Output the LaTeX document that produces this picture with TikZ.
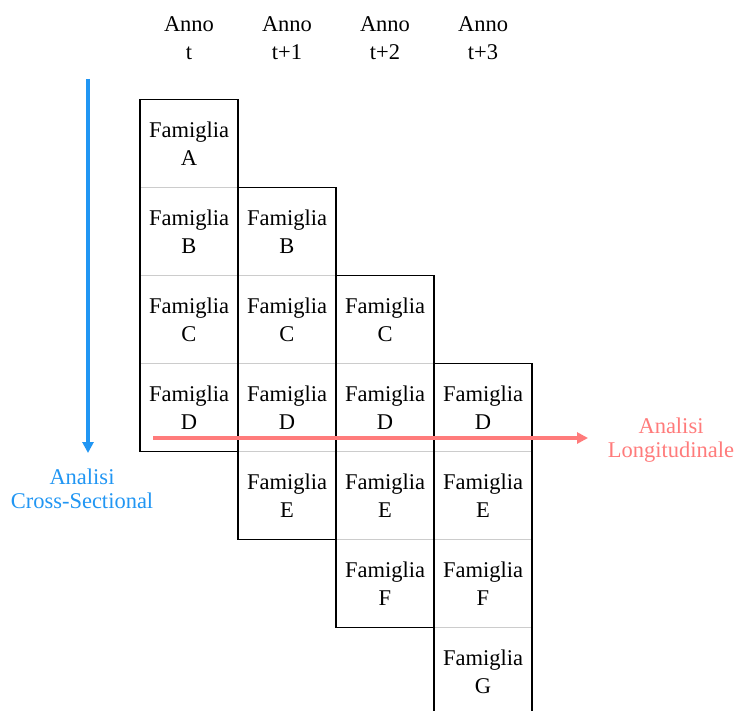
\documentclass[tikz,border=0pt]{standalone}
\usepackage{fontspec}
\setmainfont{Liberation Serif}
\usetikzlibrary{arrows.meta}
\definecolor{crossblue}{HTML}{2196F3}
\definecolor{longred}{HTML}{FF7B7B}
\definecolor{sepgray}{HTML}{CCCCCC}
\tikzset{
  cell/.style={minimum width=98pt, minimum height=88pt, inner sep=0pt, align=center,
    font=\fontsize{22.5}{28}\selectfont},
  header/.style={align=center, font=\fontsize{22.5}{28}\selectfont},
  colframe/.style={draw=black, line width=1.5pt},
  sep/.style={draw=sepgray, line width=1.2pt},
  axis/.style={line width=3.5pt, -{Triangle[length=11pt,width=11pt]}},
  axislabel/.style={align=center, font=\fontsize{22.5}{23.5}\selectfont}
}
\begin{document}
\begin{tikzpicture}[x=1pt, y=-1pt]
\useasboundingbox (0,0) rectangle (739,711);
% column headers
\foreach \i/\lbl in {0/t, 1/t+1, 2/t+2, 3/t+3}
  \node[header] (h\i) at ({189+98*\i}, 38.5) {Anno\\ \lbl};

% cells: one family per row, each column covers four consecutive rows
\foreach \c/\rows in {0/{0/A,1/B,2/C,3/D}, 1/{1/B,2/C,3/D,4/E},
                      2/{2/C,3/D,4/E,5/F}, 3/{3/D,4/E,5/F,6/G}}{
  \foreach \r/\lt in \rows
    \node[cell] (c\c\r) at ({189+98*\c}, {143.5+88*\r}) {Famiglia\\ \lt};
  \pgfmathtruncatemacro{\first}{\c}
  \pgfmathtruncatemacro{\last}{\c+3}
  % light separators between the cells of one column
  \foreach \r in {\first,...,\numexpr\last-1\relax}
    \draw[sep] (c\c\r.south west) -- (c\c\r.south east);
  \draw[colframe] (c\c\first.north west) rectangle (c\c\last.south east);
}

% cross-sectional axis
\coordinate (cs1) at (88,79);
\coordinate (cs2) at (88,453);
\draw[axis, crossblue] (cs1) -- (cs2);
\node[axislabel, text=crossblue] (csl) at (82,489) {Analisi\\Cross-Sectional};

% longitudinal axis
\coordinate (lg1) at (153,438);
\coordinate (lg2) at (588,438);
\draw[axis, longred] (lg1) -- (lg2);
\node[axislabel, text=longred] (lgl) at (671,440) {Analisi\\Longitudinale};
\end{tikzpicture}
\end{document}
